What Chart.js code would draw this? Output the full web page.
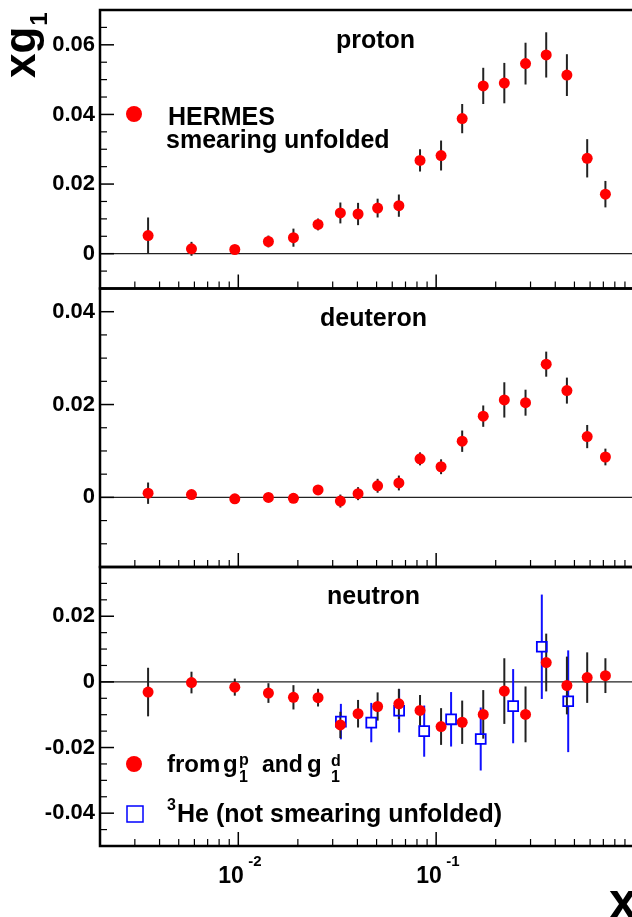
<!DOCTYPE html>
<html>
<head>
<meta charset="utf-8">
<script src="https://cdn.jsdelivr.net/npm/chart.js@4.4.1/dist/chart.umd.min.js"></script>
<style>
html, body { margin: 0; padding: 0; background: #fff; overflow: hidden; width: 632px; height: 917px; }
canvas { position: absolute; left: 0; top: -40px; }
</style>
</head>
<body>
<canvas id="proton" width="634" height="997"></canvas>
<canvas id="deuteron" width="634" height="997"></canvas>
<canvas id="neutron" width="634" height="997"></canvas>
<script>
// HERMES x bins, shared by all three panels
const xBins = [0.0035, 0.0058, 0.0096, 0.0142, 0.0190, 0.0253, 0.0328, 0.0403, 0.0506, 0.0648,
               0.0829, 0.1059, 0.1354, 0.1730, 0.2211, 0.2830, 0.3600, 0.4580, 0.5800, 0.7170];

const protonG1  = [0.0052, 0.0014, 0.0012, 0.0035, 0.0046, 0.0084, 0.0117, 0.0114, 0.0131, 0.0138,
                   0.0268, 0.0282, 0.0388, 0.0482, 0.0490, 0.0546, 0.0571, 0.0513, 0.0274, 0.0171];
const protonErr = [0.0052, 0.0020, 0.0012, 0.0017, 0.0026, 0.0017, 0.0030, 0.0032, 0.0027, 0.0032,
                   0.0032, 0.0043, 0.0042, 0.0052, 0.0058, 0.0060, 0.0065, 0.0060, 0.0055, 0.0038];

const deuteronG1  = [0.0009, 0.0006, -0.0003, 0.0000, -0.0002, 0.0016, -0.0008, 0.0008, 0.0025, 0.0031,
                     0.0083, 0.0066, 0.0121, 0.0175, 0.0210, 0.0204, 0.0287, 0.0230, 0.0131, 0.0087];
const deuteronErr = [0.0023, 0.0008, 0.0006, 0.0005, 0.0010, 0.0006, 0.0014, 0.0014, 0.0015, 0.0016,
                     0.0014, 0.0016, 0.0023, 0.0023, 0.0038, 0.0028, 0.0027, 0.0028, 0.0025, 0.0018];

const neutronG1  = [-0.0031, -0.0002, -0.0016, -0.0034, -0.0047, -0.0048, -0.0131, -0.0097, -0.0075, -0.0067,
                    -0.0087, -0.0136, -0.0123, -0.0099, -0.0028, -0.0099, 0.0059, -0.0011, 0.0013, 0.0019];
const neutronErr = [0.0074, 0.0033, 0.0026, 0.0030, 0.0037, 0.0027, 0.0040, 0.0042, 0.0043, 0.0046,
                    0.0047, 0.0056, 0.0066, 0.0074, 0.0100, 0.0085, 0.0088, 0.0088, 0.0077, 0.0053];

// 3He (not smearing unfolded)
const he3X   = [0.033, 0.047, 0.065, 0.087, 0.119, 0.168, 0.245, 0.342, 0.465];
const he3G1  = [-0.0121, -0.0124, -0.0088, -0.0150, -0.0114, -0.0174, -0.0074, 0.0107, -0.0059];
const he3Err = [0.0054, 0.0060, 0.0066, 0.0078, 0.0083, 0.0096, 0.0113, 0.0159, 0.0155];

const protonTicks   = [0, 0.02, 0.04, 0.06];
const deuteronTicks = [0, 0.02, 0.04];
const neutronTicks  = [-0.04, -0.02, 0, 0.02];
const xTickValues = [0.01, 0.1];
const xTickExps   = ['-2', '-1'];

const OFF = 40;          // canvas sits 40px above the page
const H = 997;
const FONT = '"Liberation Sans", Arial, Helvetica, sans-serif';
const bold = size => 'bold ' + size + 'px ' + FONT;

function pts(xs, ys, es) {
  return xs.map((x, i) => ({x: x, y: ys[i], e: es[i]}));
}

function line(ctx, x1, y1, x2, y2) {
  ctx.beginPath();
  ctx.moveTo(x1, y1);
  ctx.lineTo(x2, y2);
  ctx.stroke();
}

function txt(ctx, s, x, y, size) {
  ctx.font = bold(size);
  ctx.fillStyle = '#000';
  ctx.textAlign = 'left';
  ctx.textBaseline = 'alphabetic';
  ctx.fillText(s, x, y + OFF);
}

const panelPlugin = {
  id: 'panel',
  beforeDatasetsDraw(chart) {
    const {ctx, chartArea: a, scales: {x, y}} = chart;
    ctx.save();
    ctx.strokeStyle = '#222';
    ctx.lineWidth = 1.2;
    const y0 = y.getPixelForValue(0);
    line(ctx, a.left, y0, a.right, y0);
    // error bars
    for (let i = chart.data.datasets.length - 1; i >= 0; i--) {
      const ds = chart.data.datasets[i];
      ctx.strokeStyle = ds.errColor;
      ctx.lineWidth = 2;
      ds.data.forEach(p => {
        const px = x.getPixelForValue(p.x);
        const top = y.getPixelForValue(p.y + p.e);
        const bot = y.getPixelForValue(p.y - p.e);
        const c = y.getPixelForValue(p.y);
        if (ds.errGap) {
          if (c - ds.errGap > top) line(ctx, px, top, px, c - ds.errGap);
          if (c + ds.errGap < bot) line(ctx, px, c + ds.errGap, px, bot);
        } else {
          line(ctx, px, top, px, bot);
        }
      });
    }
    ctx.restore();
  },
  afterDraw(chart, args, opts) {
    const {ctx, chartArea: a, scales: {x, y}} = chart;
    ctx.save();
    ctx.strokeStyle = '#000';
    // y ticks, inside the frame
    const ymin = y.min, ymax = y.max;
    for (let k = Math.ceil(ymin / 0.005 - 1e-6); k * 0.005 <= ymax + 1e-9; k++) {
      const v = k * 0.005;
      const major = Math.abs(Math.round(v / 0.02) * 0.02 - v) < 1e-9;
      const py = y.getPixelForValue(v);
      ctx.lineWidth = major ? 1.5 : 1.2;
      line(ctx, a.left, py, a.left + (major ? 14 : 7), py);
    }
    // x ticks at the bottom of each panel
    [0.001, 0.01, 0.1].forEach(dec => {
      for (let m = 1; m <= 9; m++) {
        const v = m * dec;
        if (v <= 0.002 || v > 1) continue;
        const px = x.getPixelForValue(v);
        ctx.lineWidth = m === 1 ? 1.5 : 1.2;
        line(ctx, px, a.bottom, px, a.bottom - (m === 1 ? 14 : 7));
      }
    });
    // frame
    ctx.lineWidth = 2.5;
    ctx.strokeRect(a.left, a.top, a.right - a.left, a.bottom - a.top);
    ctx.restore();
    if (opts.draw) opts.draw(ctx, chart);
  }
};

function makePanel(id, top, bottom, yMin, yMax, yTicks, datasets, draw) {
  return new Chart(document.getElementById(id), {
    type: 'scatter',
    data: {datasets: datasets},
    options: {
      responsive: false,
      animation: false,
      events: [],
      layout: {autoPadding: false, padding: {top: top + OFF, bottom: H - bottom - OFF, left: 0, right: 0}},
      plugins: {legend: {display: false}, tooltip: {enabled: false}, panel: {draw: draw}},
      scales: {
        x: {type: 'logarithmic', min: 0.002, max: 1, display: false},
        y: {
          min: yMin,
          max: yMax,
          afterBuildTicks: s => { s.ticks = yTicks.map(v => ({value: v})); },
          afterFit: s => { s.width = 100; },
          grid: {display: false, drawTicks: false},
          border: {display: false},
          ticks: {
            color: '#000',
            padding: 5,
            font: {family: FONT, weight: 'bold', size: 22},
            callback: v => v === 0 ? '0' : v.toFixed(2)
          }
        }
      }
    },
    plugins: [panelPlugin]
  });
}

function redSet(ys, es) {
  return {
    data: pts(xBins, ys, es),
    pointStyle: 'circle',
    pointRadius: 5.5,
    pointBackgroundColor: '#ff0000',
    pointBorderColor: '#ff0000',
    pointBorderWidth: 0,
    errColor: '#222'
  };
}

makePanel('proton', 10, 288.5, -0.01, 0.07, protonTicks, [redSet(protonG1, protonErr)], ctx => {
  txt(ctx, 'proton', 336, 48, 25);
  ctx.fillStyle = '#ff0000';
  ctx.beginPath();
  ctx.arc(134, 114 + OFF, 8, 0, Math.PI * 2);
  ctx.fill();
  txt(ctx, 'HERMES', 168, 125, 25);
  txt(ctx, 'smearing unfolded', 166, 148, 25);
  // y axis title xg1
  ctx.save();
  ctx.translate(35, 78 + OFF);
  ctx.rotate(-Math.PI / 2);
  ctx.font = bold(44);
  ctx.fillStyle = '#000';
  ctx.fillText('xg', 0, 0);
  const w = ctx.measureText('xg').width;
  ctx.font = bold(24);
  ctx.fillText('1', w + 1, 12);
  ctx.restore();
});

makePanel('deuteron', 288.5, 567, -0.015, 0.045, deuteronTicks, [redSet(deuteronG1, deuteronErr)], ctx => {
  txt(ctx, 'deuteron', 320, 326, 25);
});

makePanel('neutron', 567, 846, -0.05, 0.035, neutronTicks, [
  redSet(neutronG1, neutronErr),
  {
    data: pts(he3X, he3G1, he3Err),
    pointStyle: 'rect',
    pointRadius: 7,
    pointBackgroundColor: 'rgba(0,0,0,0)',
    pointBorderColor: '#0000ff',
    pointBorderWidth: 1.8,
    errColor: '#1010ff',
    errGap: 5
  }
], (ctx, chart) => {
  txt(ctx, 'neutron', 327, 604, 25);
  // legend
  ctx.fillStyle = '#ff0000';
  ctx.beginPath();
  ctx.arc(134, 764 + OFF, 8, 0, Math.PI * 2);
  ctx.fill();
  txt(ctx, 'from', 167, 772, 24);
  txt(ctx, 'g', 223, 772, 24);
  txt(ctx, 'p', 239, 765, 16);
  txt(ctx, '1', 239, 782, 16);
  txt(ctx, 'and', 262, 772, 23);
  txt(ctx, 'g', 307, 772, 24);
  txt(ctx, 'd', 331, 766, 16);
  txt(ctx, '1', 331, 782, 16);
  ctx.strokeStyle = '#0000ff';
  ctx.lineWidth = 1.5;
  ctx.strokeRect(127, 806 + OFF, 16, 16);
  txt(ctx, '3', 167, 810, 16);
  txt(ctx, 'He (not smearing unfolded)', 177, 822, 25);
  // x tick labels
  const x = chart.scales.x;
  xTickValues.forEach((v, i) => {
    const px = x.getPixelForValue(v);
    txt(ctx, '10', px - 20, 883, 23);
    txt(ctx, xTickExps[i], px + 10, 866, 15);
  });
  // x axis title
  txt(ctx, 'x', 609, 918, 50);
});
</script>
</body>
</html>
